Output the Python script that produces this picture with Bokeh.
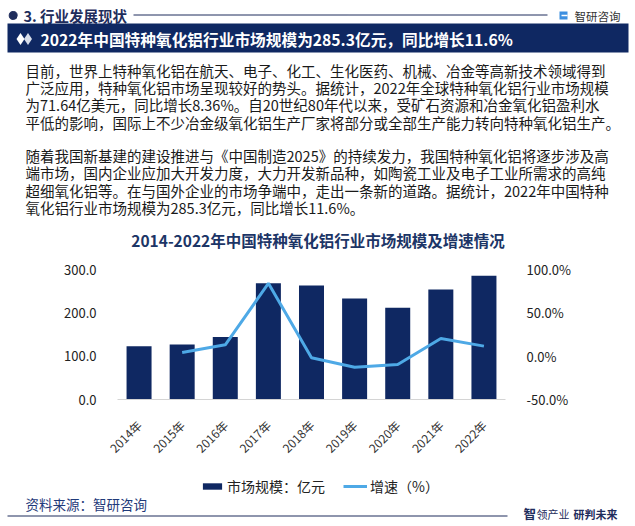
import math
from bokeh.plotting import figure
from bokeh.layouts import column
from bokeh.models import (Range1d, LinearAxis, FixedTicker, PrintfTickFormatter,
                          Legend, LegendItem, ColumnDataSource)
from bokeh.core.properties import value
from bokeh.embed import file_html
from bokeh.resources import INLINE

# ---------------- data ----------------
years = ["2014年", "2015年", "2016年", "2017年", "2018年", "2019年", "2020年", "2021年", "2022年"]
market_size = [123.0, 127.0, 144.0, 268.0, 263.0, 233.0, 212.0, 254.0, 285.3]
growth_pct = [None, 4.3, 13.1, 84.0, -1.9, -12.7, -9.6, 20.4, 11.6]
left_ticks = [0, 100, 200, 300]
right_ticks = [-50, 0, 50, 100]

section_title = "3. 行业发展现状"
brand = "智研咨询"
headline = "2022年中国特种氧化铝行业市场规模为285.3亿元，同比增长11.6%"
para1 = [
    "目前，世界上特种氧化铝在航天、电子、化工、生化医药、机械、冶金等高新技术领域得到",
    "广泛应用，特种氧化铝市场呈现较好的势头。据统计，2022年全球特种氧化铝行业市场规模",
    "为71.64亿美元，同比增长8.36%。自20世纪80年代以来，受矿石资源和冶金氧化铝盈利水",
    "平低的影响，国际上不少冶金级氧化铝生产厂家将部分或全部生产能力转向特种氧化铝生产。",
]
para2 = [
    "随着我国新基建的建设推进与《中国制造2025》的持续发力，我国特种氧化铝将逐步涉及高",
    "端市场，国内企业应加大开发力度，大力开发新品种，如陶瓷工业及电子工业所需求的高纯",
    "超细氧化铝等。在与国外企业的市场争端中，走出一条新的道路。据统计，2022年中国特种",
    "氧化铝行业市场规模为285.3亿元，同比增长11.6%。",
]
chart_title = "2014-2022年中国特种氧化铝行业市场规模及增速情况"
legend_labels = ["市场规模：亿元", "增速（%）"]
source_text = "资料来源：智研咨询"
slogan = ["智", "领产业", "研判未来"]

FONT = value("Noto Sans CJK SC")
NAVY = "#0f2862"
DARK = "#1f2d5c"
BLUE = "#4ea9e6"

W = 635

# ---------------- header figure (page y 0..255) ----------------
hdr = figure(width=W, height=255, x_range=Range1d(0, 635), y_range=Range1d(255, 0),
             x_axis_location=None, y_axis_location=None, toolbar_location=None,
             output_backend="svg", min_border=0, outline_line_color=None, frame_align=False)
hdr.grid.visible = False

hdr.scatter(x=[12.7], y=[15], size=8, color=DARK, marker="circle")
hdr.text(x=[23], y=[15], text=[section_title], text_font=FONT, text_font_size="14.5px",
         text_font_style="bold", text_color=DARK, text_baseline="middle")
hdr.segment(x0=[133], y0=[14.5], x1=[547], y1=[14.5], line_color=DARK, line_width=1)
hdr.quad(left=[559], right=[567], top=[11], bottom=[19], fill_color="#3d8fe0", line_color=None)
hdr.quad(left=[561], right=[567], top=[14.3], bottom=[15.7], fill_color="white", line_color=None)
hdr.text(x=[574], y=[15], text=[brand], text_font=FONT, text_font_size="11.5px",
         text_color="#333333", text_baseline="middle")

hdr.quad(left=[7], right=[628], top=[23], bottom=[52], fill_color=NAVY, line_color=None)
hdr.scatter(x=[20, 27.5], y=[38.5, 38.5], size=12, marker="diamond",
            fill_color=["#ffffff", "#d8deea"], line_color=None)
hdr.text(x=[40], y=[38.5], text=[headline], text_font=FONT, text_font_size="15.7px",
         text_font_style="bold", text_color="white", text_baseline="middle")

y1 = [69.6, 87.0, 104.4, 121.8]
y2 = [155.0, 172.4, 189.8, 207.2]
hdr.text(x=[25] * 4, y=y1, text=para1, text_font=FONT, text_font_size="14.5px",
         text_color="#1a1a1a", text_baseline="middle")
hdr.text(x=[25] * 4, y=y2, text=para2, text_font=FONT, text_font_size="14.5px",
         text_color="#1a1a1a", text_baseline="middle")
hdr.text(x=[317.5], y=[239], text=[chart_title], text_font=FONT, text_font_size="15.5px",
         text_font_style="bold", text_color="#1c3566", text_align="center",
         text_baseline="middle")

# ---------------- chart figure (page y 255..469) ----------------
src = ColumnDataSource(dict(year=years, size=market_size))
line_years = [y for y, g in zip(years, growth_pct) if g is not None]
line_vals = [g for g in growth_pct if g is not None]
lsrc = ColumnDataSource(dict(year=line_years, g=line_vals))

chart = figure(x_range=years, y_range=Range1d(0, 300), frame_width=388, frame_height=130,
               min_border_left=117, min_border_right=130, min_border_top=14,
               min_border_bottom=70, toolbar_location=None, output_backend="svg",
               outline_line_color=None, frame_align=False)
chart.extra_y_ranges = {"pct": Range1d(-50, 100)}
chart.grid.visible = False

bars = chart.vbar(x="year", top="size", width=0.58, source=src, fill_color=NAVY, line_color=None)
ln = chart.line(x="year", y="g", source=lsrc, y_range_name="pct", line_color=BLUE, line_width=3)

xa = chart.xaxis[0]
xa.axis_line_color = "#d4d4d4"
xa.axis_line_width = 1
xa.major_tick_line_color = None
xa.minor_tick_line_color = None
xa.major_label_orientation = math.pi / 4
xa.major_label_standoff = 17
xa.major_label_text_font = "Noto Sans CJK SC"
xa.major_label_text_font_size = "12px"
xa.major_label_text_color = "#333333"

ya = chart.yaxis[0]
ya.ticker = FixedTicker(ticks=left_ticks)
ya.formatter = PrintfTickFormatter(format="%.1f")

ra = LinearAxis(y_range_name="pct", ticker=FixedTicker(ticks=right_ticks),
                formatter=PrintfTickFormatter(format="%.1f%%"))
chart.add_layout(ra, "right")

for ax in (ya, ra):
    ax.axis_line_color = None
    ax.major_tick_line_color = None
    ax.minor_tick_line_color = None
    ax.major_label_standoff = 15
    ax.major_label_text_font = "Noto Sans CJK SC"
    ax.major_label_text_font_size = "13px"
    ax.major_label_text_color = "#222222"

# ---------------- footer figure (page y 469..526): legend + source ----------------
ftr = figure(width=W, height=57, x_range=Range1d(0, 635), y_range=Range1d(526, 469),
             x_axis_location=None, y_axis_location=None, toolbar_location=None,
             output_backend="svg", min_border=0, outline_line_color=None, frame_align=False)
ftr.grid.visible = False

# legend keys: same sources and styling as the chart's renderers; their categorical
# x values do not map onto this panel's numeric range, so only the legend keys show
key_bar = ftr.vbar(x="year", top="size", width=0.58, source=src, fill_color=NAVY, line_color=None)
key_line = ftr.line(x="year", y="g", source=lsrc, line_color=BLUE, line_width=3)
legend = Legend(items=[LegendItem(label=legend_labels[0], renderers=[key_bar]),
                       LegendItem(label=legend_labels[1], renderers=[key_line])],
                orientation="horizontal", location=(200, 30),
                glyph_width=24, glyph_height=8, label_standoff=3, spacing=18,
                padding=0, margin=0, border_line_color=None, background_fill_alpha=0,
                label_text_font="Noto Sans CJK SC", label_text_font_size="14px",
                label_text_color="#222222", label_height=17)
ftr.add_layout(legend)

ftr.text(x=[25], y=[503], text=[source_text], text_font=FONT, text_font_size="13.5px",
         text_color="#1f3a7a", text_baseline="middle")
ftr.segment(x0=[7], y0=[515.5], x1=[507], y1=[515.5], line_color=DARK, line_width=1.2)
ftr.text(x=[523], y=[513], text=[slogan[0]], text_font=FONT, text_font_size="12.5px",
         text_font_style="bold", text_color=DARK, text_baseline="middle")
ftr.text(x=[536], y=[513], text=[slogan[1]], text_font=FONT, text_font_size="11px",
         text_color=DARK, text_baseline="middle")
ftr.text(x=[573], y=[513], text=[slogan[2]], text_font=FONT, text_font_size="11px",
         text_font_style="bold", text_color=DARK, text_baseline="middle")

page = column(hdr, chart, ftr, spacing=0)
open("out.html", "w").write(file_html(page, INLINE))
